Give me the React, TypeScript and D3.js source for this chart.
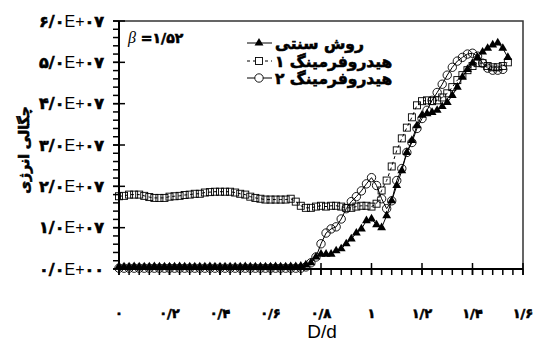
import * as d3 from 'd3';

// D/d values (shared by all series)
const dd = [0, 0.02, 0.04, 0.06, 0.08, 0.1, 0.12, 0.14, 0.16, 0.18, 0.2, 0.22, 0.24, 0.26, 0.28, 0.3, 0.32, 0.34, 0.36, 0.38,
  0.4, 0.42, 0.44, 0.46, 0.48, 0.5, 0.52, 0.54, 0.56, 0.58, 0.6, 0.62, 0.64, 0.66, 0.68, 0.7, 0.72, 0.74, 0.76, 0.78,
  0.8, 0.82, 0.84, 0.86, 0.88, 0.9, 0.92, 0.94, 0.96, 0.98, 1, 1.02, 1.04, 1.06, 1.08, 1.1, 1.12, 1.14, 1.16, 1.18,
  1.2, 1.22, 1.24, 1.26, 1.28, 1.3, 1.32, 1.34, 1.36, 1.38, 1.4, 1.42, 1.44, 1.46, 1.48, 1.5, 1.52, 1.54];

// energy density, in units of 1E+07
const traditional = [0.06, 0.05, 0.05, 0.06, 0.05, 0.05, 0.05, 0.06, 0.05, 0.05, 0.05, 0.05, 0.06, 0.05, 0.05, 0.05, 0.05, 0.05,
  0.06, 0.05, 0.05, 0.05, 0.05, 0.05, 0.05, 0.06, 0.05, 0.05, 0.05, 0.05, 0.05, 0.06, 0.05, 0.05, 0.06, 0.06,
  0.07, 0.10, 0.15, 0.29, 0.36, 0.36, 0.36, 0.44, 0.49, 0.61, 0.73, 0.87, 0.97, 1.17, 1.21, 1.07, 1.00, 1.29,
  1.65, 2.02, 2.38, 2.82, 3.11, 3.47, 3.72, 3.76, 3.79, 3.84, 3.93, 4.03, 4.20, 4.40, 4.64, 4.83, 4.98, 5.12,
  5.25, 5.34, 5.42, 5.47, 5.34, 5.12];

const hydro1 = [1.76, 1.77, 1.80, 1.80, 1.80, 1.77, 1.74, 1.72, 1.72, 1.72, 1.75, 1.76, 1.77, 1.79, 1.80, 1.82, 1.82, 1.85,
  1.86, 1.87, 1.87, 1.87, 1.87, 1.85, 1.82, 1.80, 1.75, 1.72, 1.70, 1.68, 1.68, 1.68, 1.68, 1.68, 1.70, 1.63,
  1.53, 1.48, 1.48, 1.51, 1.53, 1.51, 1.53, 1.53, 1.51, 1.48, 1.48, 1.51, 1.53, 1.53, 1.51, 1.58, 1.90, 2.14,
  2.48, 2.87, 3.16, 3.42, 3.67, 3.96, 4.06, 4.08, 4.06, 4.08, 4.15, 4.25, 4.40, 4.57, 4.69, 4.81, 4.91, 4.98,
  4.98, 4.91, 4.88, 4.88, 4.91, 5.00];

const hydro2 = [0.02, 0.02, 0.02, 0.02, 0.02, 0.02, 0.02, 0.02, 0.02, 0.02, 0.02, 0.02, 0.02, 0.02, 0.02, 0.02, 0.02, 0.02,
  0.02, 0.02, 0.02, 0.02, 0.02, 0.02, 0.02, 0.02, 0.02, 0.02, 0.02, 0.02, 0.02, 0.02, 0.02, 0.02, 0.02, 0.02, 0.02,
  0.05, 0.15, 0.29, 0.61, 0.87, 0.97, 1.02, 1.21, 1.46, 1.63, 1.75, 1.89, 2.06, 2.21, 2.02, 1.70, 1.46, 1.65,
  2.14, 2.43, 2.82, 3.06, 3.40, 3.64, 3.84, 4.08, 4.27, 4.47, 4.69, 4.88, 5.03, 5.12, 5.20, 5.22, 5.15, 4.98,
  4.86, 4.81, 4.81, 4.83];

const yTicks = [0, 1, 2, 3, 4, 5, 6];
const yTickLabels = ['۰/۰E+۰۰', '۱/۰E+۰۷', '۲/۰E+۰۷', '۳/۰E+۰۷', '۴/۰E+۰۷', '۵/۰E+۰۷', '۶/۰E+۰۷'];
const xTicks = [0, 0.2, 0.4, 0.6, 0.8, 1, 1.2, 1.4, 1.6];
const xTickLabels = ['۰', '۰/۲', '۰/۴', '۰/۶', '۰/۸', '۱', '۱/۲', '۱/۴', '۱/۶'];
const legendNames = ['روش سنتی', 'هیدروفرمینگ ۱', 'هیدروفرمینگ ۲'];

const FONT = '"Liberation Sans", Arial, sans-serif';
const FA = '"DejaVu Sans", sans-serif';
// persian glyphs come out thin, so thicken them a bit
const heavy = { fontFamily: FA, fontWeight: 'bold', stroke: '#000', strokeWidth: 0.6 } as const;

function mixedLabel(s: string) {
  // latin parts thin, persian digits bold
  return s.split(/([A-Z+]+)/).filter(p => p !== '').map((p, i) => (
    /[A-Z+]/.test(p)
      ? <tspan key={i} fontFamily={FONT} fontWeight="normal" stroke="none">{p}</tspan>
      : <tspan key={i} {...heavy}>{p}</tspan>
  ));
}

export default function App() {
  const width = 535;
  const height = 342;
  const x = d3.scaleLinear().domain([0, 1.6]).range([119, 523]);
  const y = d3.scaleLinear().domain([0, 6]).range([269, 21]);

  const line = d3.line<number>().x((_, i) => x(dd[i])).y(d => y(d));
  const tri = d3.symbol(d3.symbolTriangle, 34)()!;
  const sq = 7;

  const yMinor = d3.range(0, 6.01, 0.2);
  const xMinor = d3.range(0, 1.601, 0.04);

  const legendY = [43, 61, 78];

  return (
    <svg width={width} height={height} style={{ position: 'absolute', left: 0, top: 0, background: '#fff' }}>
      <rect width={width} height={height} fill="#fff" />

      {/* frame top/right */}
      <path d={`M${x(0)},${y(6)}H${x(1.6)}V${y(0)}`} fill="none" stroke="#333" strokeWidth={1.5} />

      {/* series: hydroforming 1 */}
      <path d={line(hydro1)!} fill="none" stroke="#000" strokeWidth={1} strokeDasharray="3,3" />
      {hydro1.map((v, i) => (
        <rect key={'s' + i} x={x(dd[i]) - sq / 2} y={y(v) - sq / 2} width={sq} height={sq}
          fill="none" stroke="#000" strokeWidth={0.9} />
      ))}

      {/* series: hydroforming 2 */}
      <path d={line(hydro2)!} fill="none" stroke="#000" strokeWidth={1} />
      {hydro2.map((v, i) => (
        <circle key={'c' + i} cx={x(dd[i])} cy={y(v)} r={4.2} fill="none" stroke="#000" strokeWidth={0.9} />
      ))}

      {/* series: traditional */}
      <path d={line(traditional)!} fill="none" stroke="#000" strokeWidth={1} />
      {traditional.map((v, i) => (
        <path key={'t' + i} d={tri} transform={`translate(${x(dd[i])},${y(v)})`} fill="#000" />
      ))}

      {/* y axis */}
      <line x1={x(0)} x2={x(0)} y1={y(6)} y2={y(0) + 1} stroke="#000" strokeWidth={2} />
      {yMinor.map((t, i) => (
        <line key={'ym' + i} x1={x(0) - 6} x2={x(0)} y1={y(t)} y2={y(t)} stroke="#000" strokeWidth={1.5} />
      ))}
      {yTicks.map((t, i) => (
        <g key={'y' + i}>
          <line x1={x(0) - 6} x2={x(0) + 6} y1={y(t)} y2={y(t)} stroke="#000" strokeWidth={1.5} />
          <text x={104} y={y(t)} dy="0.36em" textAnchor="end" fontSize={16}>
            {mixedLabel(yTickLabels[i])}
          </text>
        </g>
      ))}

      {/* x axis */}
      <line x1={x(0) - 1} x2={x(1.6)} y1={y(0)} y2={y(0)} stroke="#000" strokeWidth={2} />
      {xMinor.map((t, i) => (
        <line key={'xm' + i} x1={x(t)} x2={x(t)} y1={y(0)} y2={y(0) + 6} stroke="#000" strokeWidth={1.5} />
      ))}
      {xTicks.map((t, i) => (
        <g key={'x' + i}>
          <line x1={x(t)} x2={x(t)} y1={y(0) - 6} y2={y(0) + 6} stroke="#000" strokeWidth={1.5} />
          <text x={x(t)} y={318} textAnchor="middle" fontSize={13} {...heavy}>
            {xTickLabels[i]}
          </text>
        </g>
      ))}
      <text x={322} y={338} textAnchor="middle" fontFamily={FONT} fontSize={19}>D/d</text>

      {/* y title */}
      <text transform="translate(29,150) rotate(-90)" textAnchor="middle" fontSize={14} {...heavy}>
        چگالی انرژی
      </text>

      {/* beta */}
      <text x={128} y={43} fontSize={14} {...heavy}>
        <tspan fontFamily='"Liberation Serif", serif' fontStyle="italic" fontWeight="normal" stroke="none" fontSize={16}>β</tspan>
        <tspan> =۱/۵۲</tspan>
      </text>

      {/* legend */}
      {legendNames.map((name, i) => {
        const ly = legendY[i];
        return (
          <g key={'l' + i}>
            <line x1={247} x2={272} y1={ly} y2={ly} stroke="#000" strokeWidth={1}
              strokeDasharray={i === 1 ? '3,3' : undefined} />
            {i === 0 && <path d={tri} transform={`translate(259,${ly})`} fill="#000" />}
            {i === 1 && <rect x={259 - sq / 2} y={ly - sq / 2} width={sq} height={sq} fill="#fff" stroke="#000" strokeWidth={0.9} />}
            {i === 2 && <circle cx={259} cy={ly} r={4.2} fill="#fff" stroke="#000" strokeWidth={0.9} />}
            <text x={275} y={ly} dy="0.36em" fontSize={15.5} {...heavy}>{name}</text>
          </g>
        );
      })}
    </svg>
  );
}
